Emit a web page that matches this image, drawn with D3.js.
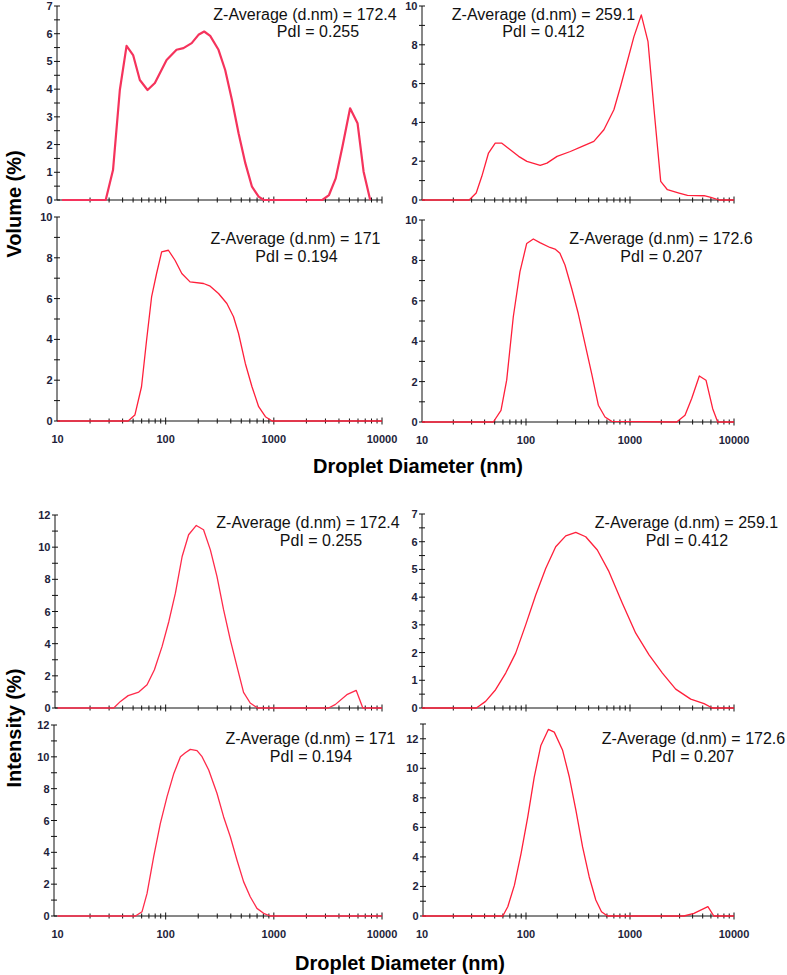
<!DOCTYPE html>
<html>
<head>
<meta charset="utf-8">
<script src="https://cdn.jsdelivr.net/npm/d3@7"></script>
<style>
  html, body { margin: 0; padding: 0; background: #fff; }
  svg { display: block; }
</style>
</head>
<body>
<svg id="chart" width="787" height="975"></svg>
<script>
// ---------------- DATA ----------------
// [diameter (nm), percent]
const volume_172_4 = [[11,0],[27.9,0],[32.6,1.08],[37.7,3.97],[43.5,5.56],[50,5.23],[57.7,4.33],[68,3.97],[79.5,4.22],[102,5.05],[126,5.42],[146,5.48],[174,5.66],[201,5.96],[227,6.08],[258,5.92],[308,5.42],[355,4.69],[410,3.61],[472,2.41],[545,1.33],[628,0.48],[724,0.12],[806,0],[2807,0],[3236,0.18],[3733,0.78],[4305,1.92],[5070,3.31],[5940,2.77],[6760,1.02],[7780,0]];
const volume_259_1 = [[10,0],[28.4,0],[33.2,0.36],[37.6,1.22],[43.6,2.42],[50.6,2.93],[58.6,2.93],[70.6,2.59],[84.9,2.25],[102,1.99],[137,1.78],[159,1.9],[199,2.25],[267,2.5],[347,2.76],[449,3.02],[561,3.62],[700,4.65],[811,5.85],[942,7.14],[1091,8.42],[1284,9.54],[1490,8.16],[1703,4.65],[1974,0.96],[2290,0.53],[2965,0.36],[3570,0.24],[5165,0.22],[5990,0.14],[7195,0],[10000,0]];
const volume_171 = [[10,0],[45,0],[51.9,0.29],[59.8,1.68],[66.6,3.96],[74.1,6.08],[82.4,7.23],[91.8,8.29],[106,8.37],[122,7.88],[141,7.23],[168,6.82],[224,6.74],[258,6.61],[308,6.25],[368,5.76],[424,5.11],[472,4.29],[545,2.82],[628,1.68],[724,0.7],[836,0.21],[964,0],[10000,0]];
const volume_172_6 = [[10,0],[48.5,0],[57.5,0.58],[65.2,2.07],[75.5,5.21],[87.5,7.44],[101.6,8.84],[117.6,9.06],[136,8.88],[170,8.64],[190,8.56],[212,8.35],[237,7.77],[275,6.61],[318,5.37],[369,3.88],[428,2.4],[496,0.83],[575,0.25],[667,0.03],[2811,0],[3380,0.33],[3920,1.16],[4640,2.28],[5380,2.07],[6240,0.66],[6970,0],[10000,0]];
const intensity_172_4 = [[10,0],[33.1,0],[38.2,0.41],[45,0.77],[56.4,0.99],[67.3,1.45],[78.7,2.38],[92.7,3.83],[107,5.38],[123,7.14],[142,9.42],[163,10.77],[192,11.35],[224,11.08],[259,9.83],[298,8.18],[343,6.11],[396,4.24],[456,2.59],[525,0.97],[605,0.31],[707,0],[3200,0],[3690,0.21],[4730,0.83],[5770,1.1],[6650,0],[10000,0]];
const intensity_259_1 = [[10,0],[33.3,0],[40.9,0.24],[51,0.66],[63.8,1.26],[79.6,1.98],[99.3,3.0],[124,4.08],[155,5.04],[193,5.82],[241,6.21],[301,6.34],[375,6.18],[485,5.7],[628,4.92],[844,3.78],[1135,2.7],[1525,1.92],[2050,1.26],[2750,0.68],[3835,0.32],[5150,0.16],[6185,0],[10000,0]];
const intensity_171 = [[10,0],[52.5,0],[60.5,0.27],[67.3,1.42],[77.5,3.73],[89.3,5.82],[103,7.5],[119,8.96],[137,10.01],[152,10.26],[169,10.47],[195,10.39],[217,10.01],[250,9.17],[298,7.71],[343,6.24],[396,4.98],[456,3.52],[525,2.16],[605,1.21],[698,0.48],[804,0.17],[927,0],[10000,0]];
const intensity_172_6 = [[10,0],[59.8,0],[66.8,0.63],[77.4,2.09],[89.6,4.23],[104,6.71],[120,9.41],[139,11.55],[164,12.63],[187,12.45],[225,11.22],[261,9.41],[302,7.16],[350,4.68],[405,2.66],[469,1.08],[532,0.29],[607,0],[3300,0],[4120,0.18],[5610,0.63],[6400,0],[10000,0]];

const zAverages = ["172.4", "259.1", "171", "172.6"];
const pdiValues = ["0.255", "0.412", "0.194", "0.207"];
const yMaxValues = [7, 10, 10, 10, 12, 7, 12, 13];
const xTickLabels = [10, 100, 1000, 10000];
const yAxisTitles = ["Volume (%)", "Intensity (%)"];
const xAxisTitle = "Droplet Diameter (nm)";

// ---------------- LAYOUT ----------------
const LEFT_X = [57.5, 382], RIGHT_X = [422, 734];
const panels = [
  { data: volume_172_4, yMax: yMaxValues[0], step: 1, minor: 0.5, xr: LEFT_X,  ax: 57,  y0: 200, y1: 6,   xLabels: false, ann: 0, a: [305, 20, 318, 37.3], sw: 2.2, col: "#f5335c" },
  { data: volume_259_1, yMax: yMaxValues[1], step: 2, minor: 1,   xr: RIGHT_X, ax: 422, y0: 200, y1: 6,   xLabels: false, ann: 1, a: [543.5, 20, 543.5, 37.3], sw: 1.3, col: "#ff1f3a" },
  { data: volume_171,   yMax: yMaxValues[2], step: 2, minor: 1,   xr: LEFT_X,  ax: 57,  y0: 421, y1: 217, xLabels: true,  ann: 2, a: [295.5, 244.3, 296.5, 261.7], sw: 1.3, col: "#ff1f3a" },
  { data: volume_172_6, yMax: yMaxValues[3], step: 2, minor: 1,   xr: RIGHT_X, ax: 422, y0: 422, y1: 220, xLabels: true,  ann: 3, a: [661, 244.3, 661.5, 261.7], sw: 1.3, col: "#ff1f3a" },
  { data: intensity_172_4, yMax: yMaxValues[4], step: 2, minor: 1,   xr: LEFT_X,  ax: 55,  y0: 708, y1: 515, xLabels: false, ann: 0, a: [308, 528.3, 321, 546], sw: 1.3, col: "#ff2a4a" },
  { data: intensity_259_1, yMax: yMaxValues[5], step: 1, minor: 0.5, xr: RIGHT_X, ax: 422, y0: 708, y1: 514, xLabels: false, ann: 1, a: [686.5, 528.3, 687, 546], sw: 1.3, col: "#ff1f3a" },
  { data: intensity_171,   yMax: yMaxValues[6], step: 2, minor: 1,   xr: LEFT_X,  ax: 54,  y0: 916, y1: 725, xLabels: true,  ann: 2, a: [310.5, 744.3, 311, 762], sw: 1.3, col: "#ff2a4a" },
  { data: intensity_172_6, yMax: yMaxValues[7], step: 2, minor: 1,   xr: RIGHT_X, ax: 423, y0: 916, y1: 724, xLabels: true,  ann: 3, a: [693.5, 744.3, 693, 762], sw: 1.3, col: "#ff1f3a" }
];

const svg = d3.select("#chart");
svg.append("rect").attr("width", 787).attr("height", 975).attr("fill", "#fff");

const AXIS_COL = "#111";
const LABEL_COL = "#1e1e3a";
const FONT = "Arial, 'Liberation Sans', Helvetica, sans-serif";

panels.forEach(p => {
  const x = d3.scaleLog().domain([10, 10000]).range(p.xr);
  const y = d3.scaleLinear().domain([0, p.yMax]).range([p.y0, p.y1]);
  const g = svg.append("g");

  const line = d3.line().x(d => x(d[0])).y(d => y(d[1])).curve(d3.curveLinear);

  g.append("line").attr("x1", p.ax).attr("x2", x(10000)).attr("y1", y(0)).attr("y2", y(0))
    .attr("stroke", AXIS_COL).attr("stroke-width", 1);
  g.append("line").attr("x1", p.ax).attr("x2", p.ax).attr("y1", y(0)).attr("y2", y(p.yMax))
    .attr("stroke", AXIS_COL).attr("stroke-width", 1);

  const xt = x.ticks().filter(v => v > 10 && v <= 10000);
  g.selectAll(".xt").data(xt).enter().append("line")
    .attr("x1", d => x(d)).attr("x2", d => x(d))
    .attr("y1", d => y(0) - (Math.log10(d) % 1 === 0 ? 3.5 : 2.5))
    .attr("y2", d => y(0) + (Math.log10(d) % 1 === 0 ? 3.5 : 2.5))
    .attr("stroke", AXIS_COL).attr("stroke-width", 1);

  const nMinor = Math.round(p.yMax / p.minor);
  const yt = d3.range(0, nMinor + 1).map(i => i * p.minor);
  g.selectAll(".yt").data(yt).enter().append("line")
    .attr("x1", p.ax - 3).attr("x2", p.ax + 3)
    .attr("y1", d => y(d)).attr("y2", d => y(d))
    .attr("stroke", AXIS_COL).attr("stroke-width", 1);

  const nMaj = Math.floor(p.yMax / p.step + 1e-9);
  const yl = d3.range(0, nMaj + 1).map(i => i * p.step);
  g.selectAll(".yl").data(yl).enter().append("text")
    .attr("x", p.ax - 4.5).attr("y", d => y(d) + 4)
    .attr("text-anchor", "end")
    .attr("font-family", FONT).attr("font-weight", "bold").attr("font-size", 11)
    .attr("fill", LABEL_COL).text(d => d);

  if (p.xLabels) {
    g.selectAll(".xl").data(xTickLabels).enter().append("text")
      .attr("x", d => x(d)).attr("y", y(0) + 22)
      .attr("text-anchor", "middle")
      .attr("font-family", FONT).attr("font-weight", "bold").attr("font-size", 11)
      .attr("fill", LABEL_COL).text(d => d);
  }

  g.append("path").datum(p.data).attr("d", line)
    .attr("fill", "none").attr("stroke", p.col).attr("stroke-width", p.sw)
    .attr("stroke-linejoin", "round");

  g.append("text").attr("x", p.a[0]).attr("y", p.a[1]).attr("text-anchor", "middle")
    .attr("font-family", FONT).attr("font-size", 16).attr("fill", "#111")
    .text("Z-Average (d.nm) = " + zAverages[p.ann]);
  g.append("text").attr("x", p.a[2]).attr("y", p.a[3]).attr("text-anchor", "middle")
    .attr("font-family", FONT).attr("font-size", 16).attr("fill", "#111")
    .text("PdI = " + pdiValues[p.ann]);
});

svg.append("text").attr("transform", "translate(21,204) rotate(-90)")
  .attr("text-anchor", "middle").attr("font-family", FONT).attr("font-weight", "bold")
  .attr("font-size", 20).attr("fill", "#000").text(yAxisTitles[0]);
svg.append("text").attr("transform", "translate(21,728) rotate(-90)")
  .attr("text-anchor", "middle").attr("font-family", FONT).attr("font-weight", "bold")
  .attr("font-size", 20).attr("fill", "#000").text(yAxisTitles[1]);
svg.append("text").attr("x", 418).attr("y", 473)
  .attr("text-anchor", "middle").attr("font-family", FONT).attr("font-weight", "bold")
  .attr("font-size", 20).attr("fill", "#000").text(xAxisTitle);
svg.append("text").attr("x", 400).attr("y", 970)
  .attr("text-anchor", "middle").attr("font-family", FONT).attr("font-weight", "bold")
  .attr("font-size", 20).attr("fill", "#000").text(xAxisTitle);
</script>
</body>
</html>
